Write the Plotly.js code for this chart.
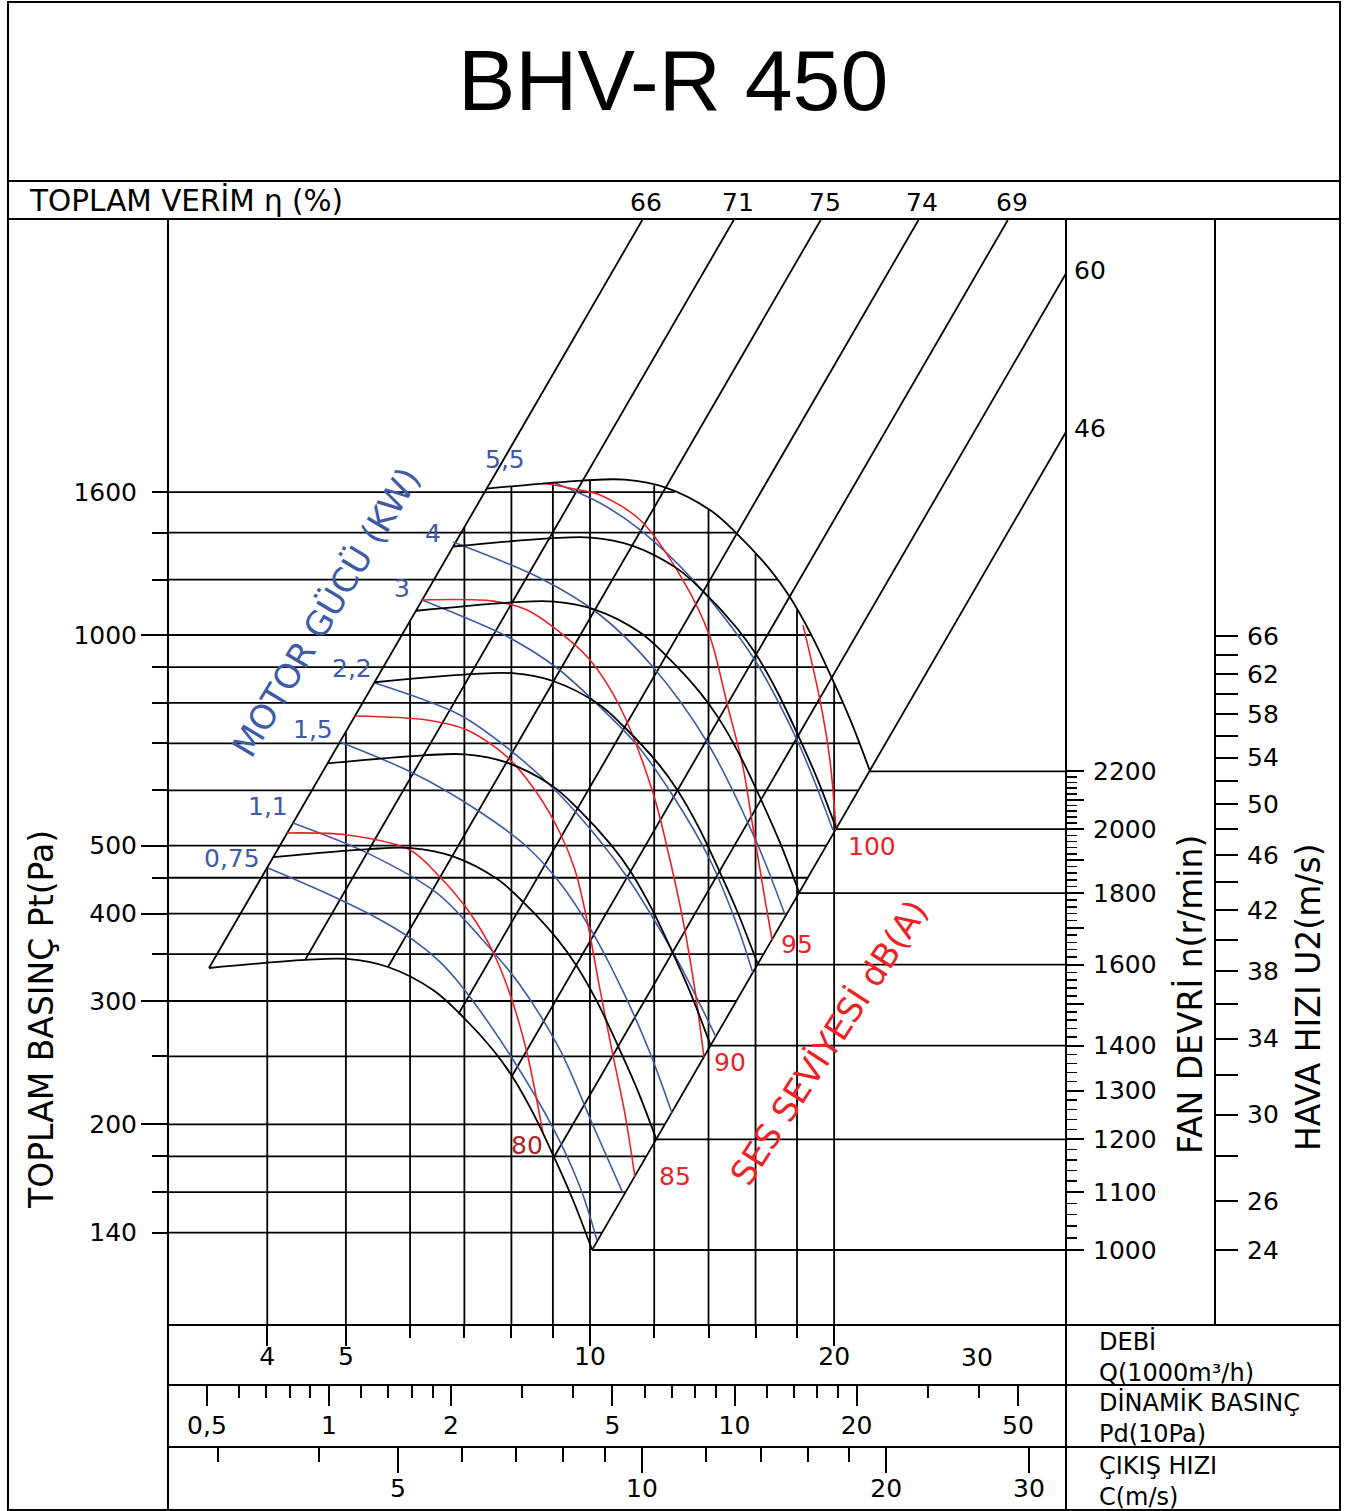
<!DOCTYPE html>
<html><head><meta charset="utf-8">
<script src="https://cdn.plot.ly/plotly-3.0.1.min.js"></script>
<style>html,body{margin:0;padding:0;background:#fff}#chart{width:1349px;height:1511px}</style>
</head><body><div id="chart"></div>
<script>
const W=1349,H=1511;
const FONT='DejaVu Sans';
const BLUE='#3e5ba6', RED='#ec2227', DARKRED='#a9262c', INK='#000';

// ---- DATA ----
// Pressure grid lines (Pa) and the flow (1000 m3/h) where each one ends on the envelope
const gridP=[140,160,180,200,250,300,350,400,450,500,600,700,800,900,1000,1200,1400,1600];
const gridPEndQ=[10.35,11.06,11.73,12.37,13.83,15.15,16.36,17.49,18.55,19.56,21.42,21.49,20.50,19.58,18.75,17.02,15.13,12.72];
// Flow grid lines (1000 m3/h) and the pressure (Pa) where each one ends
const gridQ=[4,5,6,7,8,9,10,12,14,16,18,20];
const gridQTopP=[465.6,727.5,1047.5,1425.8,1630,1648,1663,1636,1512,1306,1087,853.5];

// Efficiency lines (%): low end on the 1000 r/min curve, high end at the chart edge
const effLabels=['66','71','75','74','69','60','46'];
const effQLow=[3.390,4.453,5.636,6.895,8.013,9.028,10.06];
const effPLow=[334.4,343.4,335.5,288.4,234.4,179.6,132.3];
const effQHigh=[11.60,15.04,19.25,25.41,32.75,38.64,38.64];
const effPHigh=[3916,3916,3916,3916,3916,3287,1951];

// Fan curves, total pressure Pt (Pa) vs flow Q (1000 m3/h)
const rpmList=[1000,1200,1400,1600,1800,2000,2200];
const fanQ1000=[3.390,4.453,5.016,5.636,6.404,6.895,7.594,8.013,8.505,9.028,9.528,10.06];
const fanP1000=[334.4,343.4,344.5,335.5,311.1,288.4,255.4,234.4,207.6,179.6,155.9,132.3];
const fanQ1200=[4.068,5.344,6.019,6.763,7.685,8.274,9.113,9.616,10.21,10.83,11.43,12.07];
const fanP1200=[481.5,494.5,496.1,483.1,448.0,415.3,367.8,337.5,298.9,258.6,224.5,190.5];
const fanQ1400=[4.746,6.234,7.022,7.890,8.966,9.653,10.63,11.22,11.91,12.64,13.34,14.08];
const fanP1400=[655.4,673.1,675.2,657.6,609.8,565.3,500.6,459.4,406.9,352.0,305.6,259.3];
const fanQ1600=[5.424,7.125,8.026,9.018,10.25,11.03,12.15,12.82,13.61,14.44,15.24,16.10];
const fanP1600=[856.1,879.1,881.9,858.9,796.4,738.3,653.8,600.1,531.5,459.8,399.1,338.7];
const fanQ1800=[6.102,8.015,9.029,10.14,11.53,12.41,13.67,14.42,15.31,16.25,17.15,18.11];
const fanP1800=[1083,1113,1116,1087,1008,934.4,827.5,759.5,672.6,581.9,505.1,428.7];
const fanQ2000=[6.780,8.906,10.03,11.27,12.81,13.79,15.19,16.03,17.01,18.06,19.06,20.12];
const fanP2000=[1338,1374,1378,1342,1244,1154,1021.6,937.6,830.4,718.4,623.6,529.2];
const fanQ2200=[7.458,9.797,11.04,12.40,14.09,15.17,16.71,17.63,18.71,19.86,20.96,22.13];
const fanP2200=[1618.5,1662,1667,1624,1506,1396,1236.1,1134,1004.8,869.3,754.6,640.3];
// flow where each speed line leaves the chart towards the r/min scale
const rpmEndQ=[10.06,12.07,14.08,16.10,18.11,20.12,22.13];

// Motor power curves (kW)
const pwrLabels=['0,75','1,1','1,5','2,2','3','4','5,5'];
const pwrQ075=[4.009,4.780,5.431,6.050,6.531,6.973,7.969,9.003,9.720,10.20];
const pwrP075=[464.6,425.2,395.5,366.8,341.2,313.1,251.2,197.6,162.7,136.7];
const pwrQ11=[4.303,5.309,6.476,7.318,8.198,9.184,10.14,10.98];
const pwrP11=[538.9,488.4,427.9,370.4,316.2,255.4,196.4,159.5];
const pwrQ15=[4.917,6.050,7.256,8.363,9.184,10.0,10.98,11.86,12.62];
const pwrP15=[703.3,635.0,562.3,497.9,442.3,381.4,310.0,252.9,207.5];
const pwrQ22=[5.431,6.914,7.969,9.106,10.29,11.11,11.96,12.91,14.30];
const pwrP22=[853.8,768.6,684.9,596.7,507.8,451.1,394.2,337.8,266.5];
const pwrQ3=[6.206,7.925,9.106,10.29,11.43,12.66,14.06,15.18,15.88];
const pwrP3=[1122,993.4,897.1,789.1,696.2,588.8,477.1,385.2,328.9];
const pwrQ4=[6.778,8.676,10.29,11.96,13.94,16.06,17.40];
const pwrP4=[1358,1206,1068,900.0,703.3,504.6,398.1];
const pwrQ55=[9.053,10.29,11.53,13.40,15.88,18.00,18.95,19.93];
const pwrP55=[1649,1544,1413,1198,930.2,707.9,614.5,526.6];

// Sound level curves dB(A)
const dbLabels=['80','85','90','95','100'];
const dbQ80=[4.230,5.016,5.999,6.531,7.112,7.594,8.013,8.363,8.750];
const dbP80=[521.4,518.0,493.0,451.1,400.8,352.5,301.0,252.9,194.3];
const dbQ85=[5.131,6.295,7.052,7.903,8.603,9.184,9.583,9.915,10.29,10.64,11.05,11.36];
const dbP85=[766.1,756.1,731.8,669.6,594.6,521.4,461.6,391.6,311.1,255.4,206.1,168.2];
const dbQ90=[6.206,7.594,8.363,9.003,10.0,10.89,11.96,12.55,13.02,13.47,13.82];
const dbP90=[1122,1118,1086,1027,921.1,789.1,594.6,477.1,391.6,311.1,249.5];
const dbQ95=[8.750,9.720,10.29,11.53,13.02,14.06,14.75,15.44,15.88,16.44,16.77];
const dbP95=[1649,1611,1585,1460,1198,993.4,799.7,647.6,531.9,418.2,366.8];
const dbQ100=[18.31,19.21,19.76,20.11];
const dbP100=[1033,807.6,663.1,526.6];

// Axis tick labels
const ptTicks=[140,200,300,400,500,1000,1600];
const ptMinor=[160,180,250,350,450,600,700,800,900,1200,1400];
const qTicks=[4,5,10,20];
const qMinor=[6,7,8,9,12,14,16,18];
const pdTicks=[0.5,1,2,5,10,20,50];
const pdText=['0,5','1','2','5','10','20','50'];
const pdMinor=[0.6,0.7,0.8,0.9,1.2,1.4,1.6,1.8,3,4,6,7,8,9,12,14,16,18,30,40];
const cTicks=[5,10,20,30];
const cMinor=[3,4,6,7,8,9,12,14,16,18];
const nTicks=[1000,1100,1200,1300,1400,1500,1600,1700,1800,1900,2000,2100,2200];
const nLabeled=[1000,1100,1200,1300,1400,1600,1800,2000,2200];
const uTicks=[24,26,28,30,32,34,36,38,40,42,44,46,48,50,52,54,56,58,60,62,64,66];
const uLabeled=[24,26,30,34,38,42,46,50,54,58,62,66];

// ---- BUILD ----
const nMinor=[];
for(let v=1000; v<=2200; v+=20){ if(nTicks.indexOf(v)<0) nMinor.push(v); }

const traces=[];
function addLine(x,y,color,width,shape,smooth,extra){
  traces.push(Object.assign({type:'scatter',mode:'lines',x:x,y:y,
    line:{color:color,width:width,shape:shape||'linear',smoothing:smooth||1},
    hoverinfo:'skip',showlegend:false,connectgaps:false},extra||{}));
}
// horizontal grid
{ const x=[],y=[]; gridP.forEach((p,i)=>{x.push(2.9,gridPEndQ[i],null);y.push(p,p,null);}); addLine(x,y,INK,1.8); }
// vertical grid
{ const x=[],y=[]; gridQ.forEach((q,i)=>{x.push(q,q,null);y.push(95,gridQTopP[i],null);}); addLine(x,y,INK,1.8); }
// efficiency lines
{ const x=[],y=[]; effLabels.forEach((l,i)=>{x.push(effQLow[i],effQHigh[i],null);y.push(effPLow[i],effPHigh[i],null);}); addLine(x,y,INK,1.8); }
// power curves (blue)
[[pwrQ075,pwrP075],[pwrQ11,pwrP11],[pwrQ15,pwrP15],[pwrQ22,pwrP22],[pwrQ3,pwrP3],[pwrQ4,pwrP4],[pwrQ55,pwrP55]]
  .forEach(a=>addLine(a[0],a[1],BLUE,1.6,'spline',0.9));
// sound curves (red)
[[dbQ80,dbP80],[dbQ85,dbP85],[dbQ90,dbP90],[dbQ95,dbP95],[dbQ100,dbP100]]
  .forEach(a=>addLine(a[0],a[1],RED,1.6,'spline',0.9));
// fan curves (black)
[[fanQ1000,fanP1000],[fanQ1200,fanP1200],[fanQ1400,fanP1400],[fanQ1600,fanP1600],[fanQ1800,fanP1800],[fanQ2000,fanP2000],[fanQ2200,fanP2200]]
  .forEach(a=>addLine(a[0],a[1],INK,1.8,'spline',1));
// speed lines to the r/min scale
{ const x=[],y=[]; rpmList.forEach((n,i)=>{x.push(rpmEndQ[i],45,null);y.push(n,n,null);}); addLine(x,y,INK,1.8,'linear',1,{yaxis:'y2'}); }
// anchors for the extra axes
const ghost=(xa,ya,x,y)=>traces.push({type:'scatter',mode:'markers',x:[x],y:[y],xaxis:xa,yaxis:ya,marker:{opacity:0,size:1},hoverinfo:'skip',showlegend:false});
ghost('x','y3',10,30); ghost('x','y4',10,1000); ghost('x2','y',5,1000); ghost('x3','y',10,1000);

const px=v=>v/W, py=v=>1-v/H;
const ann=[];
function A(text,x,y,size,color,o){ ann.push(Object.assign({text:text,x:px(x),y:py(y),xref:'paper',yref:'paper',showarrow:false,
  xanchor:'center',yanchor:'middle',font:{family:FONT,size:size,color:color||INK}},o||{})); }
A('BHV-R 450',673,80,86,INK,{font:{family:'Liberation Sans',size:86,color:INK}});
A('TOPLAM VERİM η (%)',27,200,29.5,INK,{xanchor:'left'});
effLabels.slice(0,5).forEach((l,i)=>ann.push({text:l,x:Math.log10(effQHigh[i]),xref:'x',xshift:4,y:py(203),yref:'paper',
  showarrow:false,xanchor:'center',yanchor:'middle',font:{family:FONT,size:25,color:INK}}));
A(effLabels[5],1072,271,25,INK,{xanchor:'left'});
A(effLabels[6],1072,429,25,INK,{xanchor:'left'});
A('TOPLAM BASINÇ Pt(Pa)',41,1020,33,INK,{textangle:-90});
A('FAN DEVRİ n(r/min)',1190,995,33,INK,{textangle:-90});
A('HAVA HIZI U2(m/s)',1308,997,33,INK,{textangle:-90});
const pwrPos=[[232,858],[268,806],[313,730],[352,668],[402,588],[433,533],[505,459]];
pwrLabels.forEach((l,i)=>A(l,pwrPos[i][0],pwrPos[i][1],25,BLUE));
A('MOTOR GÜCÜ (KW)',326,612,34,BLUE,{textangle:-59});
const dbPos=[[527,1145],[675,1176],[730,1062],[797,944],[872,846]];
dbLabels.forEach((l,i)=>A(l,dbPos[i][0],dbPos[i][1],25,i===0?DARKRED:RED));
A('SES SEVİYESİ dB(A)',829,1042,34,RED,{textangle:-57});
A('DEBİ<br>Q(1000m³/h)',1097,1357,24,INK,{xanchor:'left',align:'left'});
A('DİNAMİK BASINÇ<br>Pd(10Pa)',1097,1418,24,INK,{xanchor:'left',align:'left'});
A('ÇIKIŞ HIZI<br>C(m/s)',1097,1481,24,INK,{xanchor:'left',align:'left'});
ann.push({text:'30',x:Math.log10(30),xref:'x',y:py(1357),yref:'paper',showarrow:false,xanchor:'center',yanchor:'middle',font:{family:FONT,size:25,color:INK}});

const L=(x0,y0,x1,y1)=>({type:'line',xref:'paper',yref:'paper',x0:px(x0),y0:py(y0),x1:px(x1),y1:py(y1),line:{color:INK,width:2}});
const shapes=[
  {type:'rect',xref:'paper',yref:'paper',x0:px(8),y0:py(2),x1:px(1340),y1:py(1510),line:{color:INK,width:2}},
  L(8,181,1340,181),L(8,219,1340,219),L(168,219,168,1511),L(1066,219,1066,1511),L(1215,219,1215,1325),
  L(168,1325,1340,1325),L(168,1385,1340,1385),L(168,1447,1340,1447)
];

const tf={family:FONT,size:25,color:INK};
const dom=[px(168),px(1066)];
const common={showgrid:false,zeroline:false,showline:false,fixedrange:true,tickcolor:INK,tickwidth:2,tickfont:tf};
const layout={
  width:W,height:H,margin:{l:0,r:0,t:0,b:0},paper_bgcolor:'#fff',plot_bgcolor:'rgba(0,0,0,0)',showlegend:false,
  xaxis:Object.assign({},common,{type:'log',domain:dom,range:[0.47965,1.58693],anchor:'y',ticks:'outside',
    tickvals:qTicks,ticktext:qTicks.map(String),ticklen:20,ticklabelstandoff:-11,
    minor:{tickvals:qMinor,ticklen:12,tickwidth:2,tickcolor:INK,ticks:'outside',showgrid:false}}),
  yaxis:Object.assign({},common,{type:'log',domain:[py(1325),py(220)],range:[2.01429,3.59286],anchor:'x',ticks:'outside',
    tickvals:ptTicks,ticktext:ptTicks.map(String),ticklen:15,ticklabelstandoff:10,
    minor:{tickvals:ptMinor,ticklen:15,tickwidth:2,tickcolor:INK,ticks:'outside',showgrid:false}}),
  yaxis4:Object.assign({},common,{type:'log',overlaying:'y',anchor:'x',side:'left',range:[2.01429,3.59286],ticks:'outside',
    tickvals:[200,300,400,500,1000],ticklen:26,showticklabels:false}),
  yaxis2:Object.assign({},common,{type:'log',overlaying:'y',anchor:'free',position:px(1066),side:'right',range:[2.94635,3.73677],
    ticks:'outside',tickvals:nTicks,ticktext:nTicks.map(v=>nLabeled.indexOf(v)>=0?String(v):''),ticklen:17,ticklabelstandoff:4,
    minor:{tickvals:nMinor,ticklen:10,tickwidth:1.5,tickcolor:INK,ticks:'outside',showgrid:false}}),
  yaxis3:Object.assign({},common,{type:'log',overlaying:'y',anchor:'free',position:px(1215),side:'right',range:[1.32656,2.11701],
    ticks:'outside',tickvals:uTicks,ticktext:uTicks.map(v=>uLabeled.indexOf(v)>=0?String(v):''),ticklen:22,ticklabelstandoff:4}),
  xaxis2:Object.assign({},common,{type:'log',overlaying:'x',anchor:'free',position:py(1385),side:'bottom',domain:dom,range:[-0.39704,1.81751],
    ticks:'outside',tickvals:pdTicks,ticktext:pdText,ticklen:20,ticklabelstandoff:-2,
    minor:{tickvals:pdMinor,ticklen:12,tickwidth:2,tickcolor:INK,ticks:'outside',showgrid:false}}),
  xaxis3:Object.assign({},common,{type:'log',overlaying:'x',anchor:'free',position:py(1447),side:'bottom',domain:dom,range:[0.41554,1.52281],
    ticks:'outside',tickvals:cTicks,ticktext:cTicks.map(String),ticklen:25,ticklabelstandoff:-6,
    minor:{tickvals:cMinor,ticklen:14,tickwidth:2,tickcolor:INK,ticks:'outside',showgrid:false}}),
  annotations:ann,shapes:shapes
};
Plotly.newPlot('chart',traces,layout,{staticPlot:true,displayModeBar:false});
</script></body></html>
